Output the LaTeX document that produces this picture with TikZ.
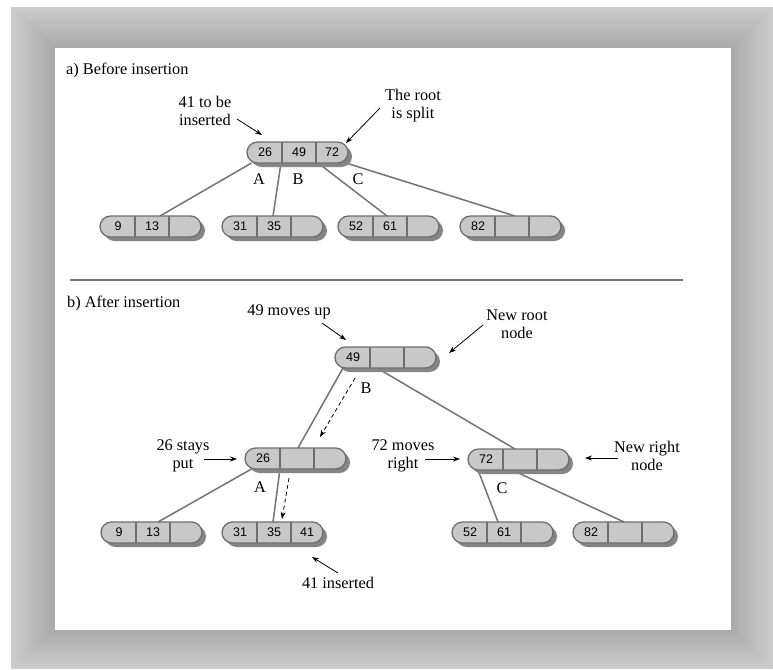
\documentclass[tikz,border=0pt]{standalone}
\usepackage{fontspec}
\setmainfont{Liberation Serif}
\newfontfamily\cellfont{Liberation Sans}
\usetikzlibrary{arrows.meta,calc,shadows}
\pgfdeclarelayer{backdrop}
\pgfdeclarelayer{bg}
\pgfsetlayers{backdrop,bg,main}
\definecolor{edgec}{HTML}{6E6E6E}
\definecolor{cellc}{HTML}{C8C8C8}
\definecolor{shadowc}{HTML}{858585}
\definecolor{linec}{HTML}{747474}
\tikzset{
  bt/.style={draw=edgec, line width=1.3pt, fill=cellc, rounded corners=10.5pt,
    minimum width=101pt, minimum height=21pt, inner sep=0pt, outer sep=0pt,
    drop shadow={shadow xshift=4pt, shadow yshift=-4pt, shadow scale=1, fill=shadowc, opacity=1}},
  divline/.style={draw=edgec, line width=1.3pt},
  cellt/.style={font=\cellfont\fontsize{12.5}{12.5}\selectfont, inner sep=0pt},
  lbl/.style={font=\fontsize{16.3}{18}\selectfont, align=center, inner sep=0pt},
  treeedge/.style={draw=linec, line width=1.5pt},
  note/.style={draw=black, line width=0.8pt, -{Stealth[length=7pt,width=5pt]}},
  moveto/.style={draw=black, line width=0.8pt, dash pattern=on 4pt off 3pt, -{Stealth[length=7pt,width=5pt]}},
}
\newcommand\btn[6]{%
  \node[bt] (#1) at (#2,#3) {};
  \draw[divline] ([xshift=-15.5pt]#1.north) -- ([xshift=-15.5pt]#1.south);
  \draw[divline] ([xshift=18.5pt]#1.north) -- ([xshift=18.5pt]#1.south);
  \node[cellt] (#1a) at ([xshift=-32.5pt]#1.center) {#4};
  \node[cellt] (#1b) at ([xshift=1.5pt]#1.center) {#5};
  \node[cellt] (#1c) at ([xshift=34.5pt]#1.center) {#6};
}
\begin{document}
\begin{tikzpicture}[x=1pt,y=-1pt]
\useasboundingbox (0,0) rectangle (773,669);
\begin{pgfonlayer}{backdrop}
\fill[white] (0,0) rectangle (773,669);
\foreach \i in {0,...,30}{
  \pgfmathsetmacro\t{\i/30}
  \pgfmathsetmacro\c{80-14*\t}
  \fill[white!\c!black] (11+44*\t,7+41*\t) rectangle (773-42*\t,669-39*\t);
}
\fill[white] (55,48) rectangle (731,630);
\end{pgfonlayer}

% ---------- a) ----------
\node[lbl, anchor=west] (ta) at (66,70) {a) Before insertion};

\btn{ra}{297.5}{152.5}{26}{49}{72}
\btn{la1}{150.5}{226.5}{9}{13}{}
\btn{la2}{272.5}{226.5}{31}{35}{}
\btn{la3}{388.5}{226.5}{52}{61}{}
\btn{la4}{510.5}{226.5}{82}{}{}

\begin{pgfonlayer}{bg}
\draw[treeedge] ([xshift=-46pt]ra.south) -- ([xshift=9.5pt]la1.north);
\draw[treeedge] ([xshift=-16.5pt]ra.south) -- ([xshift=0.5pt]la2.north);
\draw[treeedge] ([xshift=20.5pt]ra.south) -- ([xshift=-1.5pt]la3.north);
\draw[treeedge] ([xshift=-2pt]ra.south east) -- ([xshift=4.5pt]la4.north);
\end{pgfonlayer}

\node[lbl] (lA) at (259,179) {A};
\node[lbl] (lB) at (298,179) {B};
\node[lbl] (lC) at (358,179) {C};

\node[lbl] (n41) at (205,111) {41 to be\\inserted};
\coordinate (n41s) at (237,119);
\coordinate (n41e) at (262,135);
\draw[note] (n41s) -- (n41e);
\node[lbl] (nsplit) at (413,106) {The root\\is split};
\coordinate (nsplits) at (380,108);
\coordinate (nsplite) at (346,143);
\draw[note] (nsplits) -- (nsplite);

\coordinate (sepl) at (70,280);
\coordinate (sepr) at (683,280);
\draw[draw=linec, line width=1.5pt] (sepl) -- (sepr);

% ---------- b) ----------
\node[lbl, anchor=west] (tb) at (67,303) {b) After insertion};

\btn{rb}{385.5}{357.5}{49}{}{}
\btn{m26}{295.5}{458.5}{26}{}{}
\btn{m72}{518.5}{459.5}{72}{}{}
\btn{lb1}{151.5}{532.5}{9}{13}{}
\btn{lb2}{272.5}{532.5}{31}{35}{41}
\btn{lb3}{502.5}{532.5}{52}{61}{}
\btn{lb4}{623.5}{532.5}{82}{}{}

\begin{pgfonlayer}{bg}
\draw[treeedge] ([xshift=-42.5pt]rb.south) -- ([xshift=2.5pt]m26.north);
\draw[treeedge] ([xshift=-8.5pt]rb.south) -- ([xshift=-3.5pt]m72.north);
\draw[treeedge] ([xshift=-44pt]m26.south) -- ([xshift=6.5pt]lb1.north);
\draw[treeedge] ([xshift=-15.5pt]m26.south) -- ([xshift=0.5pt]lb2.north);
\draw[treeedge] ([xshift=-40.5pt]m72.south) -- ([xshift=-4.5pt]lb3.north);
\draw[treeedge] ([xshift=-6.5pt]m72.south) -- ([xshift=0.5pt]lb4.north);
\end{pgfonlayer}

\coordinate (d1s) at (355,378);
\coordinate (d1e) at (320,437);
\draw[moveto] (d1s) -- (d1e);
\coordinate (d2s) at (289,478);
\coordinate (d2e) at (282,519);
\draw[moveto] (d2s) -- (d2e);

\node[lbl] (lB2) at (366,388) {B};
\node[lbl] (lA2) at (260,487) {A};
\node[lbl] (lC2) at (502,488) {C};

\node[lbl] (n49) at (289,312) {49 moves up};
\coordinate (n49s) at (322,323);
\coordinate (n49e) at (346,340);
\draw[note] (n49s) -- (n49e);

\node[lbl] (nnr) at (517,324) {New root\\node};
\coordinate (nnrs) at (483,325);
\coordinate (nnre) at (449,353);
\draw[note] (nnrs) -- (nnre);

\node[lbl] (n26) at (183,456) {26 stays\\put};
\coordinate (n26s) at (204,459);
\coordinate (n26e) at (237,459);
\draw[note] (n26s) -- (n26e);

\node[lbl] (n72) at (403,456) {72 moves\\right};
\coordinate (n72s) at (425,459);
\coordinate (n72e) at (460,459);
\draw[note] (n72s) -- (n72e);

\node[lbl] (nright) at (647,456) {New right\\node};
\coordinate (nrights) at (618,458);
\coordinate (nrighte) at (585,458);
\draw[note] (nrights) -- (nrighte);

\node[lbl] (nins) at (338,583) {41 inserted};
\coordinate (ninss) at (338,573);
\coordinate (ninse) at (312,557);
\draw[note] (ninss) -- (ninse);
\end{tikzpicture}
\end{document}
